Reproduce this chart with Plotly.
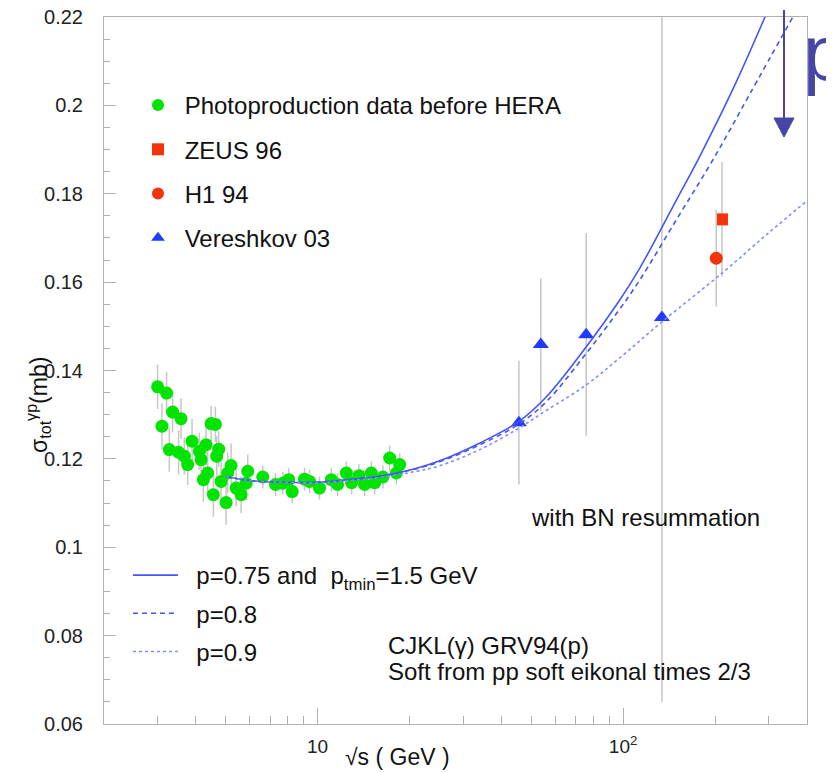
import plotly.graph_objects as go

# ---------------- data ----------------
green_x = [2.995, 3.096, 3.205, 3.272, 3.354, 3.509, 3.573, 3.664, 3.757, 3.884,
           4.103, 4.156, 4.229, 4.316, 4.368, 4.483, 4.560, 4.630, 4.676, 4.747,
           4.834, 5.019, 5.080, 5.212, 5.413, 5.621, 5.838, 5.909, 6.617, 7.283,
           7.695, 8.051, 8.260, 9.066, 9.414, 10.15, 11.09, 11.63, 12.42, 12.93,
           13.66, 14.26, 15.00, 15.38, 16.37, 17.22, 18.11, 18.57]
green_y = [0.1363, 0.1274, 0.1349, 0.1221, 0.1306, 0.1215, 0.1291, 0.1206, 0.1187, 0.1240,
           0.1217, 0.1198, 0.1153, 0.1232, 0.1168, 0.1280, 0.1119, 0.1278, 0.1206, 0.1222,
           0.1149, 0.1101, 0.1168, 0.1185, 0.1134, 0.1119, 0.1145, 0.1172, 0.1159, 0.1142,
           0.1145, 0.1153, 0.1126, 0.1154, 0.1149, 0.1134, 0.1153, 0.1142, 0.1168, 0.1146,
           0.1162, 0.1142, 0.1168, 0.1146, 0.1159, 0.1202, 0.1168, 0.1187]
green_err = [0.0050, 0.0052, 0.0048, 0.0050, 0.0046, 0.0050, 0.0046, 0.0042, 0.0046, 0.0050,
             0.0042, 0.0042, 0.0050, 0.0046, 0.0050, 0.0040, 0.0050, 0.0040, 0.0046, 0.0040,
             0.0046, 0.0050, 0.0046, 0.0050, 0.0042, 0.0042, 0.0038, 0.0038, 0.0026, 0.0026,
             0.0026, 0.0026, 0.0026, 0.0026, 0.0026, 0.0026, 0.0026, 0.0026, 0.0026, 0.0026,
             0.0026, 0.0026, 0.0026, 0.0026, 0.0026, 0.0028, 0.0026, 0.0026]

zeus_x = [210.7]
zeus_y = [0.1742]
zeus_err = [0.013]

h1_x = [201.8]
h1_y = [0.1654]
h1_err = [0.011]

ver_x = [45.6, 53.8, 75.7, 134.0]
ver_y = [0.1282, 0.1459, 0.1481, 0.1520]
ver_err = [0.014, 0.015, 0.023, 0.087]

solid_x = [5.0, 6.0, 7.7, 9.9, 12.7, 16.4, 21.1, 25.0, 34.0, 45.7, 56.2, 76.0, 95.4, 113.7, 150.0, 176.2, 230.0, 292.2]
solid_y = [0.1160, 0.1151, 0.1147, 0.1147, 0.1153, 0.1162, 0.1179, 0.1195, 0.1236, 0.1285, 0.1341, 0.1455, 0.1550, 0.1633, 0.1788, 0.1878, 0.2040, 0.2202]

dashed_x = [5.0, 6.0, 7.7, 9.9, 12.7, 16.4, 21.1, 25.0, 34.0, 45.7, 56.2, 76.0, 95.4, 113.7, 150.0, 197.3, 260.0, 360.8]
dashed_y = [0.1160, 0.1151, 0.1147, 0.1147, 0.1153, 0.1162, 0.1178, 0.1193, 0.1232, 0.1279, 0.1330, 0.1440, 0.1530, 0.1606, 0.1743, 0.1878, 0.2026, 0.2202]

dotted_x = [5.0, 6.0, 7.7, 9.9, 12.7, 16.4, 21.1, 25.0, 34.0, 45.7, 56.2, 76.0, 100.0, 134.0, 213.0, 300.0, 400.0]
dotted_y = [0.1160, 0.1151, 0.1147, 0.1146, 0.1151, 0.1159, 0.1172, 0.1184, 0.1221, 0.1270, 0.1310, 0.1368, 0.1435, 0.1510, 0.1623, 0.1712, 0.1784]

x_tick_vals = [10, 100]
x_tick_text = ["10", "10<sup>2</sup>"]
x_minor_vals = [2, 3, 4, 5, 6, 7, 8, 9, 20, 30, 40, 50, 60, 70, 80, 90, 200, 300, 400]
y_tick_vals = [0.06, 0.08, 0.1, 0.12, 0.14, 0.16, 0.18, 0.2, 0.22]
y_tick_text = ["0.06", "0.08", "0.1", "0.12", "0.14", "0.16", "0.18", "0.2", "0.22"]

# ---------------- layout helpers (page pixels; body has an 8px margin) ----------------
PAGE_W, PAGE_H = 834, 773
OFF = 8
W, H = PAGE_W - OFF, PAGE_H - OFF
PL, PR, PT, PB = 104, 807, 17, 724          # plot area in page pixels
PW, PH = PR - PL, PB - PT


def px(x):
    return (x - PL) / PW


def py(y):
    return (PB - y) / PH


FONT = "Liberation Sans, Arial, Helvetica, sans-serif"
GRAY = "#c6c6c6"
LINE_BLUE = "#4656f2"
DOT_BLUE = "#7f8cff"
TXT = "#111"

fig = go.Figure()

fig.add_trace(go.Scatter(
    x=green_x, y=green_y, mode="markers", name="\u00a0Photoproduction data before HERA",
    marker=dict(symbol="circle", size=13, color="#00e400"),
    error_y=dict(type="data", array=green_err, color=GRAY, thickness=1.5, width=0),
    legend="legend", legendgroup="g1"))
fig.add_trace(go.Scatter(
    x=zeus_x, y=zeus_y, mode="markers", name="\u00a0ZEUS 96",
    marker=dict(symbol="square", size=12, color="#f2330c"),
    error_y=dict(type="data", array=zeus_err, color=GRAY, thickness=1.5, width=0),
    legend="legend", legendgroup="g2"))
fig.add_trace(go.Scatter(
    x=h1_x, y=h1_y, mode="markers", name="\u00a0H1 94",
    marker=dict(symbol="circle", size=13, color="#f2330c"),
    error_y=dict(type="data", array=h1_err, color=GRAY, thickness=1.5, width=0),
    legend="legend", legendgroup="g3"))
fig.add_trace(go.Scatter(
    x=ver_x, y=ver_y, mode="markers", name="\u00a0Vereshkov 03",
    marker=dict(symbol="triangle-up", size=14, color="#1f3bff"),
    error_y=dict(type="data", array=ver_err, color=GRAY, thickness=1.5, width=0),
    legend="legend", legendgroup="g4"))

fig.add_trace(go.Scatter(
    x=solid_x, y=solid_y, mode="lines",
    name="\u00a0\u00a0p=0.75 and \u00a0p<sub>tmin</sub>=1.5 GeV",
    line=dict(color=LINE_BLUE, width=1.6, shape="spline"),
    legend="legend2", legendgroup="c1"))
fig.add_trace(go.Scatter(
    x=dashed_x, y=dashed_y, mode="lines", name="\u00a0\u00a0p=0.8",
    line=dict(color=LINE_BLUE, width=1.6, dash="5px,4px", shape="spline"),
    legend="legend2", legendgroup="c2"))
fig.add_trace(go.Scatter(
    x=dotted_x, y=dotted_y, mode="lines", name="\u00a0\u00a0p=0.9",
    line=dict(color=DOT_BLUE, width=1.6, dash="dot", shape="spline"),
    legend="legend2", legendgroup="c3"))

axis_line = "#b0b0b0"
fig.update_xaxes(
    type="log", range=[0.301, 2.602], showgrid=False, zeroline=False,
    showline=True, mirror=True, linecolor=axis_line, linewidth=1,
    ticks="inside", ticklen=16, tickcolor=axis_line,
    tickvals=x_tick_vals, ticktext=x_tick_text,
    tickfont=dict(family=FONT, size=19, color="#222"),
    ticklabelstandoff=5, ticklabeloverflow="allow",
    minor=dict(tickvals=x_minor_vals, ticks="inside", ticklen=8, tickcolor=axis_line, showgrid=False))
fig.update_yaxes(
    range=[0.06, 0.22], showgrid=False, zeroline=False,
    showline=True, mirror=True, linecolor=axis_line, linewidth=1,
    ticks="inside", ticklen=12, tickcolor=axis_line,
    tickvals=y_tick_vals, ticktext=y_tick_text,
    tickfont=dict(family=FONT, size=20, color="#222"),
    ticklabelstandoff=16, ticklabeloverflow="allow", automargin=False,
    minor=dict(dtick=0.005, ticks="inside", ticklen=6, tickcolor=axis_line, showgrid=False))


def note(text, x, y, size=24, xanchor="center", **kw):
    return dict(text=text, x=px(x), y=py(y), xref="paper", yref="paper",
                xanchor=xanchor, yanchor=kw.pop("yanchor", "middle"), showarrow=False,
                font=dict(family=FONT, size=size, color=kw.pop("color", TXT)), **kw)


annotations = [
    note("\u221As ( GeV )", 397, 757, size=23),
    note("\u03c3<sub>tot</sub><sup>\u03b3p</sup>(mb)", 38, 405, size=23, textangle=-90),
    note("with BN resummation", 645, 518),
    note("CJKL(\u03b3) GRV94(p)", 386, 645, xanchor="left"),
    note("Soft from pp soft eikonal times 2/3", 386, 671, xanchor="left"),
    note("p", 801, 8, size=77, xanchor="left", yanchor="top", color="#4646a6"),
]

ARROW = "#4646a6"
shapes = [
    dict(type="line", xref="paper", yref="paper", x0=px(784), x1=px(784), y0=py(10), y1=py(122),
         line=dict(color=ARROW, width=2)),
    dict(type="path", xref="paper", yref="paper",
         path=f"M {px(774)},{py(118)} L {px(794)},{py(118)} L {px(784)},{py(137)} Z",
         fillcolor=ARROW, line=dict(color=ARROW, width=1)),
]

fig.update_layout(
    width=W, height=H,
    margin=dict(l=PL - OFF, r=PAGE_W - PR, t=PT - OFF, b=PAGE_H - PB),
    paper_bgcolor="white", plot_bgcolor="white",
    font=dict(family=FONT, color=TXT),
    annotations=annotations, shapes=shapes,
    legend=dict(x=px(138), y=py(83), xanchor="left", yanchor="top",
                font=dict(family=FONT, size=24, color=TXT), bgcolor="rgba(0,0,0,0)",
                traceorder="grouped", tracegroupgap=10, itemsizing="constant"),
    legend2=dict(x=px(128), y=py(553), xanchor="left", yanchor="top",
                 font=dict(family=FONT, size=24, color=TXT), bgcolor="rgba(0,0,0,0)",
                 traceorder="grouped", tracegroupgap=4, itemwidth=45),
)

fig.write_html("out.html")
